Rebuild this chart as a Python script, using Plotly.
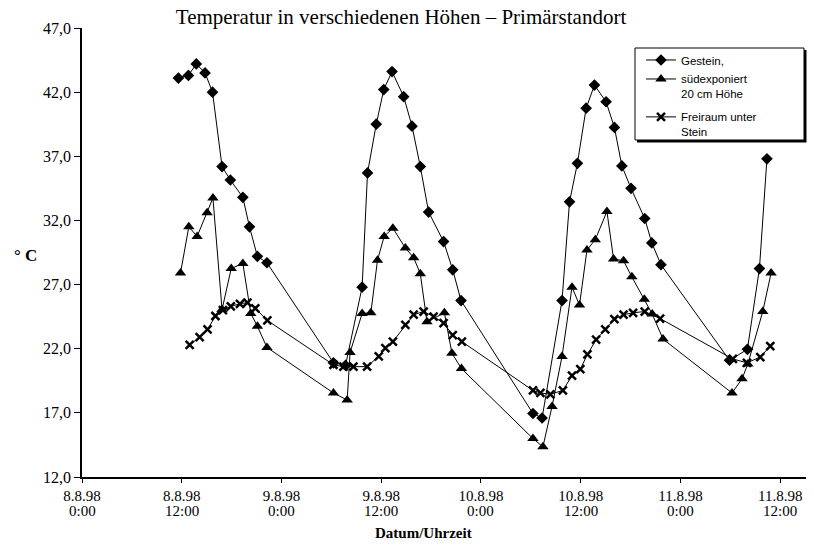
import plotly.graph_objects as go

# hours since 8.8.98 0:00
gestein_h = [11.6, 12.8, 13.75, 14.8, 15.7, 16.85, 17.85, 19.35, 20.15, 21.1, 22.25,
             30.25, 31.7, 33.7, 34.35, 35.4, 36.3, 37.3, 38.7, 39.7, 40.7, 41.7, 43.5, 44.6, 45.6,
             54.25, 55.35, 57.75, 58.65, 59.6, 60.65, 61.65, 63.05, 64.05, 64.95, 66.05, 67.7, 68.55, 69.65,
             77.9, 80.05, 81.5, 82.4]
gestein_v = [43.1, 43.3, 44.2, 43.5, 42.0, 36.2, 35.15, 33.8, 31.5, 29.2, 28.7,
             20.9, 20.7, 26.8, 35.7, 39.5, 42.2, 43.6, 41.65, 39.35, 36.2, 32.65, 30.35, 28.15, 25.75,
             16.95, 16.6, 25.75, 33.45, 36.45, 40.75, 42.55, 41.25, 39.25, 36.25, 34.5, 32.15, 30.25, 28.55,
             21.1, 21.95, 28.25, 36.8]

sued_h = [11.85, 12.85, 13.85, 15.05, 15.75, 16.85, 17.95, 19.35, 20.3, 21.1, 22.25,
          30.25, 31.9, 32.25, 33.7, 34.75, 35.55, 36.35, 37.4, 38.9, 39.9, 40.7, 41.5, 43.6, 44.5, 45.65,
          54.25, 55.45, 56.55, 57.75, 58.95, 59.85, 60.75, 61.75, 63.15, 63.95, 65.15, 66.15, 67.65, 68.6, 69.9,
          78.2, 79.4, 80.1, 81.9, 82.9]
sued_v = [27.9, 31.5, 30.75, 32.6, 33.75, 25.05, 28.25, 28.65, 24.75, 23.75, 22.1,
          18.55, 18.0, 21.7, 24.75, 24.8, 28.9, 30.75, 31.4, 29.85, 29.1, 27.85, 24.1, 24.8, 21.65, 20.45,
          15.0, 14.35, 17.5, 21.4, 26.8, 25.4, 29.7, 30.5, 32.7, 29.0, 28.85, 27.6, 25.85, 24.7, 22.75,
          18.55, 19.65, 20.8, 24.9, 27.9]

frei_h = [12.95, 14.15, 15.1, 16.05, 16.95, 17.9, 19.0, 19.9, 20.85, 22.3,
          30.25, 31.45, 32.65, 34.3, 35.7, 36.5, 37.4, 38.9, 39.9, 41.1, 42.3, 43.5, 44.6, 45.7,
          54.25, 55.15, 56.35, 57.85, 58.95, 59.95, 60.8, 61.85, 62.95, 64.05, 65.15, 66.3, 67.7, 69.55,
          78.3, 80.0, 81.6, 82.8]
frei_v = [22.3, 22.9, 23.5, 24.55, 25.0, 25.3, 25.5, 25.6, 25.15, 24.2,
          20.75, 20.6, 20.6, 20.6, 21.4, 22.05, 22.55, 23.85, 24.65, 24.9, 24.5, 24.0, 23.05, 22.55,
          18.75, 18.55, 18.45, 18.75, 19.9, 20.4, 21.55, 22.7, 23.5, 24.3, 24.65, 24.8, 24.9, 24.35,
          21.2, 20.9, 21.35, 22.2]

tick_hours = [0, 12, 24, 36, 48, 60, 72, 84]
tick_dates = ["8.8.98", "8.8.98", "9.8.98", "9.8.98", "10.8.98", "10.8.98", "11.8.98", "11.8.98"]
tick_times = ["0:00", "12:00", "0:00", "12:00", "0:00", "12:00", "0:00", "12:00"]

names = ["Gestein,", "südexponiert<br>20 cm Höhe", "Freiraum unter<br>Stein"]
groups = ["g1", "g1", "g2"]

SERIF = "Liberation Serif, Times New Roman, serif"
SANS = "Liberation Sans, Arial, sans-serif"

W, H = 814, 546
ML, MR, MT, MB = 82, 8, 28, 69
PW, PH = W - ML - MR, H - MT - MB
XMAX = 87.1


def px_to_paper(px, py):
    return (px - ML) / PW, (H - MB - py) / PH


fig = go.Figure()
fig.add_trace(go.Scatter(x=gestein_h, y=gestein_v, name=names[0], legendgroup=groups[0],
                         mode="lines+markers", line=dict(color="black", width=1),
                         marker=dict(symbol="diamond", size=9, color="black")))
fig.add_trace(go.Scatter(x=sued_h, y=sued_v, name=names[1], legendgroup=groups[1],
                         mode="lines+markers", line=dict(color="black", width=1),
                         marker=dict(symbol="triangle-up", size=10, color="black")))
fig.add_trace(go.Scatter(x=frei_h, y=frei_v, name=names[2], legendgroup=groups[2],
                         mode="lines+markers", line=dict(color="black", width=1),
                         marker=dict(symbol="x-thin", size=8, color="black",
                                     line=dict(color="black", width=2.5))))

lx, ly = px_to_paper(641, 46)
cx, cy = px_to_paper(25, 255)
dx, dy = px_to_paper(423, 533)
_, ty = px_to_paper(0, 511)
b0x, b0y = px_to_paper(635, 48)
b1x, b1y = px_to_paper(804, 140)
s0x, s0y = px_to_paper(637, 50)
s1x, s1y = px_to_paper(806.5, 142.5)

annotations = [
    dict(text="<b>° C</b>", x=cx, y=cy, xref="paper", yref="paper", showarrow=False,
         xanchor="center", yanchor="middle",
         font=dict(family=SERIF, size=17, color="black")),
    dict(text="<b>Datum/Uhrzeit</b>", x=dx, y=dy, xref="paper", yref="paper", showarrow=False,
         xanchor="center", yanchor="middle",
         font=dict(family=SERIF, size=15, color="black")),
]
for h, t in zip(tick_hours, tick_times):
    annotations.append(dict(text=t, x=h, y=ty, xref="x", yref="paper", showarrow=False,
                            xanchor="center", yanchor="middle",
                            font=dict(family=SERIF, size=15, color="black")))

fig.update_layout(
    width=W, height=H, autosize=False,
    margin=dict(l=ML, r=MR, t=MT, b=MB),
    paper_bgcolor="white", plot_bgcolor="white",
    separators=",.",
    font=dict(family=SERIF, color="black", size=15),
    title=dict(text="Temperatur in verschiedenen Höhen – Primärstandort",
               x=401 / W, xanchor="center", xref="container",
               y=1 - 17 / H, yanchor="middle", yref="container",
               font=dict(family=SERIF, size=21, color="black")),
    showlegend=True,
    legend=dict(x=lx, y=ly, xanchor="left", yanchor="top",
                bgcolor="rgba(0,0,0,0)", borderwidth=0,
                font=dict(family=SANS, size=11.5, color="black"),
                valign="top", itemwidth=30, tracegroupgap=5),
    xaxis=dict(range=[0, XMAX], tickmode="array", tickvals=tick_hours, ticktext=tick_dates,
               showgrid=False, zeroline=False, showline=True, linecolor="black", linewidth=1.5,
               ticks="outside", ticklen=4, tickcolor="black",
               tickfont=dict(family=SERIF, size=15, color="black")),
    yaxis=dict(range=[12, 47], tick0=12, dtick=5, tickformat=".1f",
               showgrid=False, zeroline=False, showline=True, linecolor="black", linewidth=1.5,
               ticks="outside", ticklen=6, tickcolor="black",
               tickfont=dict(family=SERIF, size=16, color="black")),
    shapes=[
        dict(type="rect", xref="paper", yref="paper", x0=s0x, y0=s0y, x1=s1x, y1=s1y,
             fillcolor="black", line=dict(width=0), layer="above"),
        dict(type="rect", xref="paper", yref="paper", x0=b0x, y0=b0y, x1=b1x, y1=b1y,
             fillcolor="white", line=dict(color="black", width=1), layer="above"),
    ],
    annotations=annotations,
)

fig.write_html("out.html")
